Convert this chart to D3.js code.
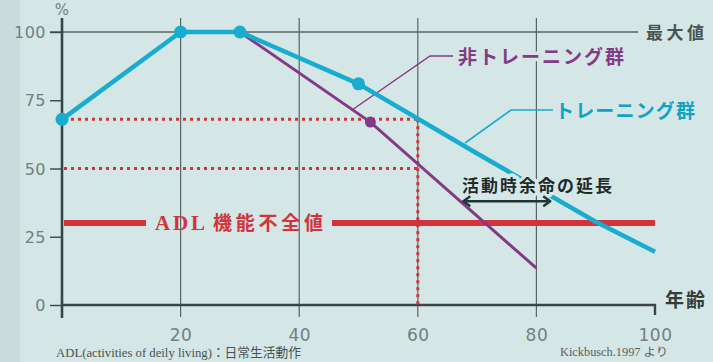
<!DOCTYPE html>
<html><head><meta charset="utf-8">
<script src="https://cdn.jsdelivr.net/npm/d3@7"></script>
<style>
html,body{margin:0;padding:0;background:#d4e6e5;}
svg{display:block;}
</style></head>
<body>
<script>
// ---- data ----
const xTicks = [20, 40, 60, 80, 100];
const yTicks = [0, 25, 50, 75, 100];
const trainingLine = [[0, 68], [20, 100], [30, 100], [50, 81], [70, 55.5], [90, 30.5], [100, 19.5]];
const trainingMarkers = [[0, 68], [20, 100], [30, 100], [50, 81]];
const nonTrainingLine = [[30, 100], [52, 67], [80, 13.5]];
const nonTrainingMarkers = [[52, 67]];
const adlValue = 30;
const refLevels = [68, 50];
const refAge = 60;
const arrowSpan = [67.5, 82.5];
const arrowLevel = 38;
const labels = {
  pct: "%", max: "最大値", age: "年齢",
  nonTraining: "非トレーニング群", training: "トレーニング群",
  extension: "活動時余命の延長", adlA: "ADL", adlB: "機能不全値",
  note: "ADL(activities of deily living)：日常生活動作",
  source: "Kickbusch.1997 より"
};

const W = 713, H = 362, BG = "#d4e6e5";
const CY = "#17acd0", PU = "#843a86", RED = "#d3333b", AX = "#3b4545", GR = "#5a6464", TK = "#728080";
const JP = "'Noto Sans CJK JP', sans-serif";

const svg = d3.select("body").append("svg").attr("width", W).attr("height", H);
svg.append("rect").attr("width", W).attr("height", H).attr("fill", BG);
svg.append("rect").attr("width", 20).attr("height", H).attr("fill", "#c9dcdb");

const x = d3.scaleLinear().domain([0, 100]).range([62, 655]);
const y = d3.scaleLinear().domain([0, 100]).range([305, 32]);

// grid verticals
const g = svg.append("g");
xTicks.filter(d => d < 100).forEach(d => {
  g.append("line").attr("x1", x(d)).attr("x2", x(d)).attr("y1", 18).attr("y2", 317)
    .attr("stroke", GR).attr("stroke-width", 1.2);
});
// 100 line
g.append("line").attr("x1", 50).attr("x2", 638).attr("y1", y(100)).attr("y2", y(100))
  .attr("stroke", GR).attr("stroke-width", 1.4);

// y axis ticks
const yAxis = d3.axisLeft(y).tickValues(yTicks).tickSize(12).tickPadding(4);
const ya = svg.append("g").attr("transform", `translate(${x(0)},0)`).call(yAxis);
ya.select(".domain").remove();
ya.selectAll(".tick line").attr("stroke", AX).attr("stroke-width", 1.4);
ya.selectAll(".tick text").attr("fill", TK).attr("font-family", "'DejaVu Sans', sans-serif")
  .attr("font-size", 16).attr("letter-spacing", 0.5).attr("dy", "0.35em");

// x axis labels
const xAxis = d3.axisBottom(x).tickValues(xTicks).tickSize(0).tickPadding(24);
const xa = svg.append("g").attr("transform", `translate(0,${y(0)})`).call(xAxis);
xa.select(".domain").remove();
xa.selectAll(".tick text").attr("fill", TK).attr("font-family", "'DejaVu Sans', sans-serif")
  .attr("font-size", 17).attr("letter-spacing", 0.5);

// axis lines
svg.append("line").attr("x1", x(0)).attr("x2", x(0)).attr("y1", 18).attr("y2", 318)
  .attr("stroke", AX).attr("stroke-width", 2.6);
svg.append("path").attr("d", `M${x(0)},${y(0)}H${x(100)}V${y(0) + 10}`)
  .attr("fill", "none").attr("stroke", AX).attr("stroke-width", 2.4);

// red dotted reference lines
const dot = { stroke: RED, "stroke-width": 3, "stroke-dasharray": "3,4" };
refLevels.forEach(v => {
  const l = svg.append("line").attr("x1", x(0) + 2).attr("x2", x(refAge)).attr("y1", y(v)).attr("y2", y(v));
  Object.entries(dot).forEach(([k, val]) => l.attr(k, val));
});
{
  const l = svg.append("line").attr("x1", x(refAge)).attr("x2", x(refAge)).attr("y1", y(refLevels[0])).attr("y2", y(0) + 3);
  Object.entries(dot).forEach(([k, val]) => l.attr(k, val));
}

// ADL line (with gap for label)
svg.append("line").attr("x1", x(0) + 2).attr("x2", 146).attr("y1", y(adlValue)).attr("y2", y(adlValue))
  .attr("stroke", RED).attr("stroke-width", 6);
svg.append("line").attr("x1", 332).attr("x2", x(100)).attr("y1", y(adlValue)).attr("y2", y(adlValue))
  .attr("stroke", RED).attr("stroke-width", 6);
svg.append("text").attr("x", 155).attr("y", y(adlValue) + 7).attr("textLength", 50).attr("lengthAdjust", "spacing")
  .attr("fill", RED).attr("font-family", "'Liberation Serif', serif").attr("font-weight", 700).attr("font-size", 21).text(labels.adlA);
svg.append("text").attr("x", 213).attr("y", y(adlValue) + 7).attr("textLength", 110).attr("lengthAdjust", "spacing")
  .attr("fill", RED).attr("font-family", JP).attr("font-weight", 700).attr("font-size", 19).text(labels.adlB);

const line = d3.line().x(d => x(d[0])).y(d => y(d[1]));

// leader lines
svg.append("path").attr("d", `M352,110L430,56H453`).attr("fill", "none").attr("stroke", PU).attr("stroke-width", 1.4);
svg.append("path").attr("d", `M465,143L511,110H553`).attr("fill", "none").attr("stroke", CY).attr("stroke-width", 1.6);

// series
svg.append("path").datum(nonTrainingLine).attr("d", line).attr("fill", "none")
  .attr("stroke", PU).attr("stroke-width", 3);
svg.selectAll(".pm").data(nonTrainingMarkers).join("circle").attr("cx", d => x(d[0])).attr("cy", d => y(d[1]))
  .attr("r", 5.5).attr("fill", PU);
svg.append("path").datum(trainingLine).attr("d", line).attr("fill", "none")
  .attr("stroke", CY).attr("stroke-width", 4.5).attr("stroke-linejoin", "round");
svg.selectAll(".cm").data(trainingMarkers).join("circle").attr("cx", d => x(d[0])).attr("cy", d => y(d[1]))
  .attr("r", 6.5).attr("fill", CY);

// labels with halo
function halo(sel) { return sel.attr("stroke", BG).attr("stroke-width", 7).attr("paint-order", "stroke").attr("stroke-linejoin", "round"); }
halo(svg.append("text").attr("x", 458).attr("y", 64).attr("textLength", 166).attr("lengthAdjust", "spacing")
  .attr("fill", PU).attr("font-family", JP).attr("font-weight", 700).attr("font-size", 19).text(labels.nonTraining));
halo(svg.append("text").attr("x", 555).attr("y", 118).attr("textLength", 140).attr("lengthAdjust", "spacing")
  .attr("fill", "#0fa3c6").attr("font-family", JP).attr("font-weight", 700).attr("font-size", 19).text(labels.training));
halo(svg.append("text").attr("x", 462).attr("y", 192).attr("textLength", 150).attr("lengthAdjust", "spacing")
  .attr("fill", "#1f2b2b").attr("font-family", JP).attr("font-weight", 700).attr("font-size", 17).text(labels.extension));

// double arrow
const ay = y(arrowLevel), ax1 = x(arrowSpan[0]), ax2 = x(arrowSpan[1]);
svg.append("line").attr("x1", ax1 + 3).attr("x2", ax2 - 3).attr("y1", ay).attr("y2", ay)
  .attr("stroke", "#1f3636").attr("stroke-width", 2.4);
svg.append("path").attr("d", `M${ax1 + 8},${ay - 5}L${ax1 + 1},${ay}L${ax1 + 8},${ay + 5}M${ax2 - 8},${ay - 5}L${ax2 - 1},${ay}L${ax2 - 8},${ay + 5}`)
  .attr("fill", "none").attr("stroke", "#1f3636").attr("stroke-width", 2.4).attr("stroke-linejoin", "round");

// axis texts
svg.append("text").attr("x", 62).attr("y", 15).attr("text-anchor", "middle").attr("fill", TK)
  .attr("font-family", "'DejaVu Sans', sans-serif").attr("font-size", 15).text(labels.pct);
svg.append("text").attr("x", 646).attr("y", 39).attr("textLength", 58).attr("lengthAdjust", "spacing").attr("fill", "#4b5454")
  .attr("font-family", JP).attr("font-weight", 700).attr("font-size", 17).text(labels.max);
svg.append("text").attr("x", 665).attr("y", 307).attr("textLength", 40).attr("lengthAdjust", "spacing").attr("fill", "#333b3b")
  .attr("font-family", JP).attr("font-weight", 700).attr("font-size", 19).text(labels.age);

// notes
svg.append("text").attr("x", 56).attr("y", 357).attr("textLength", 245).attr("lengthAdjust", "spacingAndGlyphs").attr("fill", "#4a5252")
  .attr("font-family", "'Liberation Serif', 'Noto Sans CJK JP', serif").attr("font-size", 13).text(labels.note);
svg.append("text").attr("x", 560).attr("y", 356).attr("textLength", 108).attr("lengthAdjust", "spacingAndGlyphs").attr("fill", "#5a6262")
  .attr("font-family", "'Liberation Serif', 'Noto Sans CJK JP', serif").attr("font-size", 11.5).text(labels.source);
</script>
</body></html>
